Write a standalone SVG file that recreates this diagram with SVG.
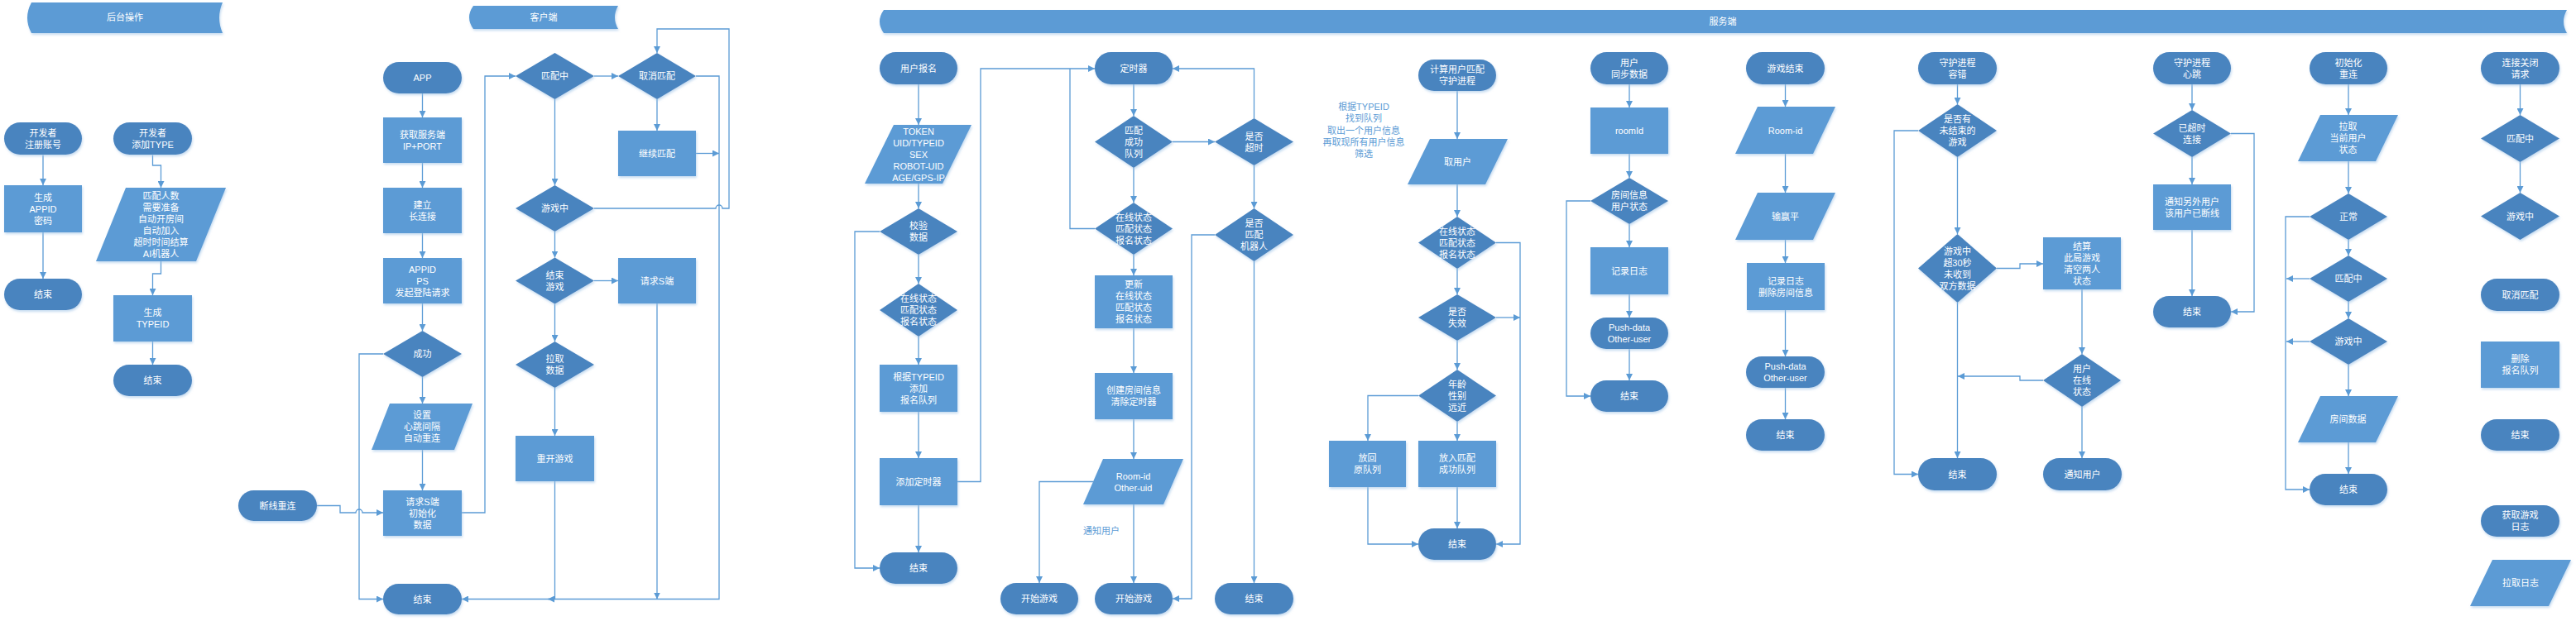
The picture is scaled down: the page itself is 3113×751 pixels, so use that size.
<svg xmlns="http://www.w3.org/2000/svg" width="3113" height="751" viewBox="0 0 3113 751">
<style>
.t{fill:#4a84bf;filter:url(#sh)}
.d{fill:#4a84bf;filter:url(#sh)}
.p{fill:#5b9bd5;filter:url(#sh)}
.h{fill:#5b9bd5;filter:url(#sh)}
.c{fill:none;stroke:#5b9bd5;stroke-width:1.3}
.ca{fill:none;stroke:#5b9bd5;stroke-width:1.3;marker-end:url(#a)}
text{font-family:"Liberation Sans","Noto Sans CJK SC",sans-serif;font-size:11px;text-anchor:middle;fill:#ffffff}
.n{fill:#5b9bd5}
</style>
<defs>
<filter id="sh" x="-10%" y="-10%" width="130%" height="140%">
<feDropShadow dx="1" dy="2" stdDeviation="1.5" flood-color="#9dc3e6" flood-opacity="0.6"/>
</filter>
<marker id="a" viewBox="0 0 10 10" refX="10" refY="5" markerWidth="8" markerHeight="8" markerUnits="userSpaceOnUse" orient="auto"><path d="M0,0 L10,5 L0,10 Z" fill="#5b9bd5"/></marker>
</defs>
<rect width="3113" height="751" fill="#ffffff"/>

<!-- headers -->
<g id="hdr1"><path class="h" d="M38,3 H269 Q261,21.5 269,40 H38 Q28,21.5 38,3 Z"/><text x="151" y="25">后台操作</text></g>
<g id="hdr2"><path class="h" d="M572,7 H747 Q739,21 747,35 H572 Q562,21 572,7 Z"/><text x="657" y="25">客户端</text></g>
<g id="hdr3"><path class="h" d="M1068,12 H3102 Q3094,26 3102,40 H1068 Q1058,26 1068,12 Z"/><text x="2082" y="30">服务端</text></g>

<!-- connectors -->
<g id="connectors">
<path class="ca" d="M52,187.5 V224"/>
<path class="ca" d="M52,281 V337"/>
<path class="ca" d="M184.5,187.5 V200 H194.5 V227"/>
<path class="ca" d="M194.5,316 V331 H184.5 V357"/>
<path class="ca" d="M184.5,413 V441"/>

<path class="ca" d="M510.5,113 V142"/>
<path class="ca" d="M510.5,197 V227"/>
<path class="ca" d="M510.5,282 V312"/>
<path class="ca" d="M510.5,367 V400"/>
<path class="ca" d="M510.5,456 V488"/>
<path class="ca" d="M510.5,544 V593"/>
<path class="ca" d="M463,428 H434 V724.5 H463"/>
<path class="ca" d="M558,620 H586 V92 H623"/>
<path class="ca" d="M383,611.5 H411 V620 H430 A4,4 0 0 1 438,620 H463"/>
<path class="ca" d="M718,92 H747"/>
<path class="ca" d="M794,120 V158"/>
<path class="ca" d="M841,185.5 H869"/>
<path class="ca" d="M841,92 H869 V724.5 H558"/>
<path class="ca" d="M670.5,120 V224"/>
<path class="ca" d="M718,252 H865 A4,4 0 0 1 873,252 H881 V35 H794 V64"/>
<path class="ca" d="M670.5,280 V311.5"/>
<path class="ca" d="M718,339.5 H747"/>
<path class="ca" d="M794,367 V724.5"/>
<path class="ca" d="M670.5,367.5 V413"/>
<path class="ca" d="M670.5,469 V527"/>
<path class="ca" d="M670.5,582 V724.5 H662"/>

<path class="ca" d="M1110,102 V151"/>
<path class="ca" d="M1110,222 V252"/>
<path class="ca" d="M1110,308 V343"/>
<path class="ca" d="M1110,407 V441"/>
<path class="ca" d="M1110,498 V554"/>
<path class="ca" d="M1110,611 V668"/>
<path class="ca" d="M1063,280 H1033 V687 H1063"/>
<path class="ca" d="M1157,582.5 H1185 V83 H1323"/>

<path class="ca" d="M1370,102 V140"/>
<path class="ca" d="M1417,171.5 H1468"/>
<path class="ca" d="M1515.5,143 V83 H1417"/>
<path class="ca" d="M1515.5,200 V252"/>
<path class="ca" d="M1468,284 H1440 V724 H1417"/>
<path class="ca" d="M1515.5,316 V705"/>
<path class="ca" d="M1370,203 V245"/>
<path class="c" d="M1323,276.5 H1293 V83"/>
<path class="ca" d="M1370,308 V333"/>
<path class="ca" d="M1370,397 V451"/>
<path class="ca" d="M1370,507 V555"/>
<path class="ca" d="M1321,582.5 H1256 V705"/>
<path class="ca" d="M1370,610 V705"/>

<path class="ca" d="M1761,110 V168"/>
<path class="ca" d="M1761,223 V262"/>
<path class="ca" d="M1808,293.5 H1837 V658 H1808"/>
<path class="ca" d="M1808,384 H1837"/>
<path class="ca" d="M1761,325 V356"/>
<path class="ca" d="M1761,412 V447"/>
<path class="ca" d="M1714,478.5 H1653 V533"/>
<path class="ca" d="M1761,510 V533"/>
<path class="ca" d="M1653,589 V658 H1714"/>
<path class="ca" d="M1761,589 V639"/>

<path class="ca" d="M1969,102 V130"/>
<path class="ca" d="M1969,186 V215"/>
<path class="ca" d="M1922,243 H1893 V479 H1922"/>
<path class="ca" d="M1969,271 V299"/>
<path class="ca" d="M1969,356 V384"/>
<path class="ca" d="M1969,422 V460"/>

<path class="ca" d="M2157.5,102 V129"/>
<path class="ca" d="M2157.5,186 V233"/>
<path class="ca" d="M2157.5,290 V318"/>
<path class="ca" d="M2157.5,375 V431"/>
<path class="ca" d="M2157.5,469 V507"/>

<path class="ca" d="M2365.5,102 V126"/>
<path class="ca" d="M2318,158 H2289 V573.5 H2318"/>
<path class="ca" d="M2365.5,190 V283"/>
<path class="ca" d="M2413,324.5 H2441 V319 H2469"/>
<path class="ca" d="M2516,350 V428"/>
<path class="ca" d="M2469,460 H2441 V455 H2366"/>
<path class="ca" d="M2365.5,366 V554"/>
<path class="ca" d="M2516,492 V554"/>

<path class="ca" d="M2649,102 V133"/>
<path class="ca" d="M2696,161.5 H2724 V377 H2696"/>
<path class="ca" d="M2649,190 V223"/>
<path class="ca" d="M2649,278 V358"/>

<path class="ca" d="M2838,102 V139"/>
<path class="ca" d="M2838,195 V234"/>
<path class="ca" d="M2791,262 H2762 V592 H2791"/>
<path class="ca" d="M2838,290 V309"/>
<path class="ca" d="M2791,337 H2763"/>
<path class="ca" d="M2838,365 V385"/>
<path class="ca" d="M2791,413 H2763"/>
<path class="ca" d="M2838,441 V479"/>
<path class="ca" d="M2838,535 V573"/>

<path class="ca" d="M3045.5,102 V139"/>
<path class="ca" d="M3045.5,196 V233"/>
</g>

<!-- backend ops -->
<g id="dev_reg"><rect class="t" x="5" y="148" width="94" height="39" rx="19.5"/><text x="52" y="164.5">开发者<tspan x="52" dy="14">注册账号</tspan></text></g>
<g id="gen_appid"><rect class="p" x="5" y="224" width="94" height="57"/><text x="52" y="242.5">生成<tspan x="52" dy="14">APPID</tspan><tspan x="52" dy="14">密码</tspan></text></g>
<g id="end_a"><rect class="t" x="5" y="337" width="94" height="38" rx="19"/><text x="52" y="360">结束</text></g>
<g id="dev_type"><rect class="t" x="137" y="148" width="95" height="39" rx="19.5"/><text x="184.5" y="164.5">开发者<tspan x="184.5" dy="14">添加TYPE</tspan></text></g>
<g id="type_params"><polygon class="p" points="152,227 273,227 237,316 116,316"/><text x="194.5" y="240.5">匹配人数<tspan x="194.5" dy="14">需要准备</tspan><tspan x="194.5" dy="14">自动开房间</tspan><tspan x="194.5" dy="14">自动加入</tspan><tspan x="194.5" dy="14">超时时间结算</tspan><tspan x="194.5" dy="14">AI机器人</tspan></text></g>
<g id="gen_typeid"><rect class="p" x="137" y="357" width="95" height="56"/><text x="184.5" y="382">生成<tspan x="184.5" dy="14">TYPEID</tspan></text></g>
<g id="end_b"><rect class="t" x="137" y="441" width="95" height="38" rx="19"/><text x="184.5" y="464">结束</text></g>

<!-- client -->
<g id="app"><rect class="t" x="463" y="75" width="95" height="38" rx="19"/><text x="510.5" y="98">APP</text></g>
<g id="get_ip"><rect class="p" x="463" y="142" width="95" height="55"/><text x="510.5" y="166.5">获取服务端<tspan x="510.5" dy="14">IP+PORT</tspan></text></g>
<g id="conn"><rect class="p" x="463" y="227" width="95" height="55"/><text x="510.5" y="251.5">建立<tspan x="510.5" dy="14">长连接</tspan></text></g>
<g id="login"><rect class="p" x="463" y="312" width="95" height="55"/><text x="510.5" y="329.5">APPID<tspan x="510.5" dy="14">PS</tspan><tspan x="510.5" dy="14">发起登陆请求</tspan></text></g>
<g id="ok"><polygon class="d" points="510.5,400 558,428 510.5,456 463,428"/><text x="510.5" y="432">成功</text></g>
<g id="heartbeat"><polygon class="p" points="471,488 571,488 549,544 449,544"/><text x="510" y="506">设置<tspan x="510" dy="14">心跳间隔</tspan><tspan x="510" dy="14">自动重连</tspan></text></g>
<g id="init_s"><rect class="p" x="463" y="593" width="95" height="55"/><text x="510.5" y="610.5">请求S端<tspan x="510.5" dy="14">初始化</tspan><tspan x="510.5" dy="14">数据</tspan></text></g>
<g id="reconnect"><rect class="t" x="288" y="593" width="95" height="37" rx="18.5"/><text x="335.5" y="615.5">断线重连</text></g>
<g id="end_c"><rect class="t" x="463" y="706" width="95" height="37" rx="18.5"/><text x="510.5" y="728.5">结束</text></g>
<g id="matching"><polygon class="d" points="670.5,64 718,92 670.5,120 623,92"/><text x="670.5" y="96">匹配中</text></g>
<g id="cancel"><polygon class="d" points="794,64 841,92 794,120 747,92"/><text x="794" y="96">取消匹配</text></g>
<g id="continue"><rect class="p" x="747" y="158" width="94" height="55"/><text x="794" y="189.5">继续匹配</text></g>
<g id="ingame"><polygon class="d" points="670.5,224 718,252 670.5,280 623,252"/><text x="670.5" y="256">游戏中</text></g>
<g id="endgame"><polygon class="d" points="670.5,311.5 718,339.5 670.5,367.5 623,339.5"/><text x="670.5" y="336.5">结束<tspan x="670.5" dy="14">游戏</tspan></text></g>
<g id="req_s"><rect class="p" x="747" y="312" width="94" height="55"/><text x="794" y="343.5">请求S端</text></g>
<g id="pull"><polygon class="d" points="670.5,413 718,441 670.5,469 623,441"/><text x="670.5" y="438">拉取<tspan x="670.5" dy="14">数据</tspan></text></g>
<g id="restart"><rect class="p" x="623" y="527" width="95" height="55"/><text x="670.5" y="558.5">重开游戏</text></g>

<!-- server: signup -->
<g id="signup"><rect class="t" x="1063" y="63" width="94" height="39" rx="19.5"/><text x="1110" y="86.5">用户报名</text></g>
<g id="signup_data"><polygon class="p" points="1080,151 1174,151 1139,222 1045,222"/><text x="1110" y="162.5">TOKEN<tspan x="1110" dy="14">UID/TYPEID</tspan><tspan x="1110" dy="14">SEX</tspan><tspan x="1110" dy="14">ROBOT-UID</tspan><tspan x="1110" dy="14">AGE/GPS-IP</tspan></text></g>
<g id="verify"><polygon class="d" points="1110,252 1157,280 1110,308 1063,280"/><text x="1110" y="277">校验<tspan x="1110" dy="14">数据</tspan></text></g>
<g id="status1"><polygon class="d" points="1110,343 1157,375 1110,407 1063,375"/><text x="1110" y="365">在线状态<tspan x="1110" dy="14">匹配状态</tspan><tspan x="1110" dy="14">报名状态</tspan></text></g>
<g id="add_queue"><rect class="p" x="1063" y="441" width="94" height="57"/><text x="1110" y="459.5">根据TYPEID<tspan x="1110" dy="14">添加</tspan><tspan x="1110" dy="14">报名队列</tspan></text></g>
<g id="add_timer"><rect class="p" x="1063" y="554" width="94" height="57"/><text x="1110" y="586.5">添加定时器</text></g>
<g id="end_d"><rect class="t" x="1063" y="668" width="94" height="38" rx="19"/><text x="1110" y="691">结束</text></g>

<!-- server: timer -->
<g id="timer"><rect class="t" x="1323" y="63" width="94" height="39" rx="19.5"/><text x="1370" y="86.5">定时器</text></g>
<g id="match_ok"><polygon class="d" points="1370,140 1417,171.5 1370,203 1323,171.5"/><text x="1370" y="161.5">匹配<tspan x="1370" dy="14">成功</tspan><tspan x="1370" dy="14">队列</tspan></text></g>
<g id="timeout"><polygon class="d" points="1515.5,143 1563,171.5 1515.5,200 1468,171.5"/><text x="1515.5" y="168.5">是否<tspan x="1515.5" dy="14">超时</tspan></text></g>
<g id="robot"><polygon class="d" points="1515.5,252 1563,284 1515.5,316 1468,284"/><text x="1515.5" y="274">是否<tspan x="1515.5" dy="14">匹配</tspan><tspan x="1515.5" dy="14">机器人</tspan></text></g>
<g id="status2"><polygon class="d" points="1370,245 1417,276.5 1370,308 1323,276.5"/><text x="1370" y="266.5">在线状态<tspan x="1370" dy="14">匹配状态</tspan><tspan x="1370" dy="14">报名状态</tspan></text></g>
<g id="update"><rect class="p" x="1323" y="333" width="94" height="64"/><text x="1370" y="348">更新<tspan x="1370" dy="14">在线状态</tspan><tspan x="1370" dy="14">匹配状态</tspan><tspan x="1370" dy="14">报名状态</tspan></text></g>
<g id="create_room"><rect class="p" x="1323" y="451" width="94" height="56"/><text x="1370" y="476">创建房间信息<tspan x="1370" dy="14">清除定时器</tspan></text></g>
<g id="room_out"><polygon class="p" points="1333,555 1430,555 1406,610 1309,610"/><text x="1369.5" y="579.5">Room-id<tspan x="1369.5" dy="14">Other-uid</tspan></text></g>
<text class="n" x="1331" y="646">通知用户</text>
<g id="start1"><rect class="t" x="1209" y="705" width="94" height="38" rx="19"/><text x="1256" y="728">开始游戏</text></g>
<g id="start2"><rect class="t" x="1323" y="705" width="94" height="38" rx="19"/><text x="1370" y="728">开始游戏</text></g>
<g id="end_e"><rect class="t" x="1468" y="705" width="95" height="38" rx="19"/><text x="1515.5" y="728">结束</text></g>

<!-- server: match daemon -->
<g id="note"><text class="n" x="1648" y="133">根据TYPEID<tspan x="1648" dy="14.3">找到队列</tspan><tspan x="1648" dy="14.3">取出一个用户信息</tspan><tspan x="1648" dy="14.3">再取现所有用户信息</tspan><tspan x="1648" dy="14.3">筛选</tspan></text></g>
<g id="match_daemon"><rect class="t" x="1714" y="72" width="94" height="38" rx="19"/><text x="1761" y="88">计算用户匹配<tspan x="1761" dy="14">守护进程</tspan></text></g>
<g id="take_user"><polygon class="p" points="1728,168 1822,168 1795,223 1701,223"/><text x="1761.5" y="199.5">取用户</text></g>
<g id="status3"><polygon class="d" points="1761,262 1808,293.5 1761,325 1714,293.5"/><text x="1761" y="283.5">在线状态<tspan x="1761" dy="14">匹配状态</tspan><tspan x="1761" dy="14">报名状态</tspan></text></g>
<g id="invalid"><polygon class="d" points="1761,356 1808,384 1761,412 1714,384"/><text x="1761" y="381">是否<tspan x="1761" dy="14">失效</tspan></text></g>
<g id="age"><polygon class="d" points="1761,447 1808,478.5 1761,510 1714,478.5"/><text x="1761" y="468.5">年龄<tspan x="1761" dy="14">性别</tspan><tspan x="1761" dy="14">远近</tspan></text></g>
<g id="put_back"><rect class="p" x="1606" y="533" width="93" height="56"/><text x="1652.5" y="558">放回<tspan x="1652.5" dy="14">原队列</tspan></text></g>
<g id="put_ok"><rect class="p" x="1714" y="533" width="94" height="56"/><text x="1761" y="558">放入匹配<tspan x="1761" dy="14">成功队列</tspan></text></g>
<g id="end_f"><rect class="t" x="1714" y="639" width="94" height="38" rx="19"/><text x="1761" y="662">结束</text></g>

<!-- server: sync -->
<g id="sync"><rect class="t" x="1922" y="63" width="94" height="39" rx="19.5"/><text x="1969" y="79.5">用户<tspan x="1969" dy="14">同步数据</tspan></text></g>
<g id="roomid"><rect class="p" x="1922" y="130" width="94" height="56"/><text x="1969" y="162">roomId</text></g>
<g id="room_info"><polygon class="d" points="1969,215 2016,243 1969,271 1922,243"/><text x="1969" y="240">房间信息<tspan x="1969" dy="14">用户状态</tspan></text></g>
<g id="log1"><rect class="p" x="1922" y="299" width="94" height="57"/><text x="1969" y="331.5">记录日志</text></g>
<g id="push1"><rect class="t" x="1922" y="384" width="94" height="38" rx="19"/><text x="1969" y="400">Push-data<tspan x="1969" dy="14">Other-user</tspan></text></g>
<g id="end_g"><rect class="t" x="1922" y="460" width="94" height="38" rx="19"/><text x="1969" y="483">结束</text></g>

<!-- server: game over -->
<g id="gameover"><rect class="t" x="2110" y="63" width="95" height="39" rx="19.5"/><text x="2157.5" y="86.5">游戏结束</text></g>
<g id="roomid2"><polygon class="p" points="2124,129 2218,129 2191,186 2097,186"/><text x="2157.5" y="161.5">Room-id</text></g>
<g id="result"><polygon class="p" points="2124,233 2218,233 2191,290 2097,290"/><text x="2157.5" y="265.5">输赢平</text></g>
<g id="log2"><rect class="p" x="2111" y="318" width="94" height="57"/><text x="2158" y="343.5">记录日志<tspan x="2158" dy="14">删除房间信息</tspan></text></g>
<g id="push2"><rect class="t" x="2110" y="431" width="95" height="38" rx="19"/><text x="2157.5" y="447">Push-data<tspan x="2157.5" dy="14">Other-user</tspan></text></g>
<g id="end_h"><rect class="t" x="2110" y="507" width="95" height="38" rx="19"/><text x="2157.5" y="530">结束</text></g>

<!-- server: fault tolerance -->
<g id="fault"><rect class="t" x="2318" y="63" width="95" height="39" rx="19.5"/><text x="2365.5" y="79.5">守护进程<tspan x="2365.5" dy="14">容错</tspan></text></g>
<g id="unfinished"><polygon class="d" points="2365.5,126 2413,158 2365.5,190 2318,158"/><text x="2365.5" y="148">是否有<tspan x="2365.5" dy="14">未结束的</tspan><tspan x="2365.5" dy="14">游戏</tspan></text></g>
<g id="timeout30"><polygon class="d" points="2365.5,283 2413,324.5 2365.5,366 2318,324.5"/><text x="2365.5" y="307.5">游戏中<tspan x="2365.5" dy="14">超30秒</tspan><tspan x="2365.5" dy="14">未收到</tspan><tspan x="2365.5" dy="14">双方数据</tspan></text></g>
<g id="settle"><rect class="p" x="2469" y="287" width="94" height="63"/><text x="2516" y="301.5">结算<tspan x="2516" dy="14">此局游戏</tspan><tspan x="2516" dy="14">清空两人</tspan><tspan x="2516" dy="14">状态</tspan></text></g>
<g id="online"><polygon class="d" points="2516,428 2563,460 2516,492 2469,460"/><text x="2516" y="450">用户<tspan x="2516" dy="14">在线</tspan><tspan x="2516" dy="14">状态</tspan></text></g>
<g id="end_i"><rect class="t" x="2318" y="554" width="95" height="39" rx="19.5"/><text x="2365.5" y="577.5">结束</text></g>
<g id="notify"><rect class="t" x="2469" y="554" width="95" height="39" rx="19.5"/><text x="2516.5" y="577.5">通知用户</text></g>

<!-- server: heartbeat -->
<g id="hb"><rect class="t" x="2602" y="63" width="94" height="39" rx="19.5"/><text x="2649" y="79.5">守护进程<tspan x="2649" dy="14">心跳</tspan></text></g>
<g id="hb_timeout"><polygon class="d" points="2649,133 2696,161.5 2649,190 2602,161.5"/><text x="2649" y="158.5">已超时<tspan x="2649" dy="14">连接</tspan></text></g>
<g id="notify_other"><rect class="p" x="2602" y="223" width="94" height="55"/><text x="2649" y="247.5">通知另外用户<tspan x="2649" dy="14">该用户已断线</tspan></text></g>
<g id="end_j"><rect class="t" x="2602" y="358" width="94" height="38" rx="19"/><text x="2649" y="381">结束</text></g>

<!-- server: init reconnect -->
<g id="init"><rect class="t" x="2791" y="63" width="94" height="39" rx="19.5"/><text x="2838" y="79.5">初始化<tspan x="2838" dy="14">重连</tspan></text></g>
<g id="pull_state"><polygon class="p" points="2804,139 2898,139 2871,195 2777,195"/><text x="2837.5" y="157">拉取<tspan x="2837.5" dy="14">当前用户</tspan><tspan x="2837.5" dy="14">状态</tspan></text></g>
<g id="normal"><polygon class="d" points="2838,234 2885,262 2838,290 2791,262"/><text x="2838" y="266">正常</text></g>
<g id="matching2"><polygon class="d" points="2838,309 2885,337 2838,365 2791,337"/><text x="2838" y="341">匹配中</text></g>
<g id="ingame2"><polygon class="d" points="2838,385 2885,413 2838,441 2791,413"/><text x="2838" y="417">游戏中</text></g>
<g id="room_data"><polygon class="p" points="2804,479 2898,479 2871,535 2777,535"/><text x="2837.5" y="511">房间数据</text></g>
<g id="end_k"><rect class="t" x="2791" y="573" width="94" height="38" rx="19"/><text x="2838" y="596">结束</text></g>

<!-- server: close -->
<g id="close"><rect class="t" x="2998" y="63" width="95" height="39" rx="19.5"/><text x="3045.5" y="79.5">连接关闭<tspan x="3045.5" dy="14">请求</tspan></text></g>
<g id="matching3"><polygon class="d" points="3045.5,139 3093,167.5 3045.5,196 2998,167.5"/><text x="3045.5" y="171.5">匹配中</text></g>
<g id="ingame3"><polygon class="d" points="3045.5,233 3093,261.5 3045.5,290 2998,261.5"/><text x="3045.5" y="265.5">游戏中</text></g>
<g id="cancel2"><rect class="t" x="2998" y="337" width="95" height="39" rx="19.5"/><text x="3045.5" y="360.5">取消匹配</text></g>
<g id="del_queue"><rect class="p" x="2998" y="413" width="95" height="56"/><text x="3045.5" y="438">删除<tspan x="3045.5" dy="14">报名队列</tspan></text></g>
<g id="end_l"><rect class="t" x="2998" y="507" width="95" height="38" rx="19"/><text x="3045.5" y="530">结束</text></g>
<g id="get_log"><rect class="t" x="2998" y="611" width="95" height="38" rx="19"/><text x="3045.5" y="627">获取游戏<tspan x="3045.5" dy="14">日志</tspan></text></g>
<g id="pull_log"><polygon class="p" points="3012,677 3107,677 3080,733 2985,733"/><text x="3046" y="709">拉取日志</text></g>
</svg>
